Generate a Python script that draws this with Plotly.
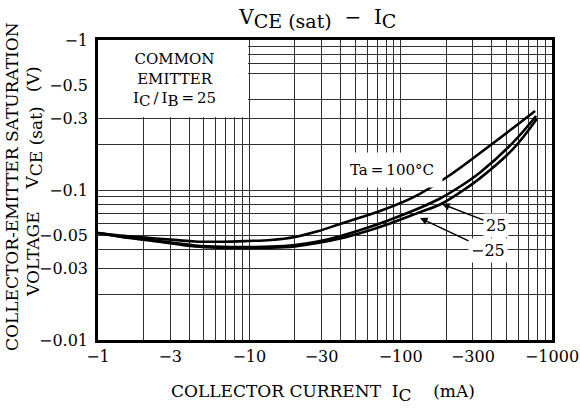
import plotly.graph_objects as go

# ---- data (magnitudes; chart shows negative values) ----
ic_100 = [1, 1.4, 2.21, 4.38, 6.6, 9.8, 13.9, 20.0, 28.3, 39.8, 54.0, 73.1, 120.8, 202.6, 334.8, 553.4, 773.2]
vce_100 = [0.0517, 0.0497, 0.0479, 0.0454, 0.0452, 0.0457, 0.0464, 0.0486, 0.0530, 0.0594, 0.0656, 0.0724, 0.0892, 0.1221, 0.1765, 0.259, 0.336]

ic_25 = [1, 1.4, 2.21, 4.38, 6.6, 9.8, 13.9, 20.0, 28.3, 39.8, 58.1, 85.1, 134.4, 182.2, 247.0, 334.8, 553.4, 785.0]
vce_25 = [0.0517, 0.0490, 0.0464, 0.0427, 0.0418, 0.0417, 0.0419, 0.0430, 0.0454, 0.0492, 0.0553, 0.0634, 0.0762, 0.0878, 0.1055, 0.1310, 0.2075, 0.3113]

ic_m25 = [1, 1.4, 2.21, 4.38, 6.6, 9.8, 13.9, 20.0, 28.3, 39.8, 58.1, 85.1, 134.4, 182.2, 247.0, 334.8, 553.4, 797.0]
vce_m25 = [0.0517, 0.0488, 0.0461, 0.0420, 0.0412, 0.0410, 0.0412, 0.0421, 0.0443, 0.0475, 0.0527, 0.0598, 0.0712, 0.0800, 0.0963, 0.1200, 0.1880, 0.300]

x_tickvals = [1, 3, 10, 30, 100, 300, 1000]
x_ticktext = ["\u22121", "\u22123", "\u221210", "\u221230", "\u2212100", "\u2212300", "\u22121000"]
y_tickvals = [0.01, 0.03, 0.05, 0.1, 0.3, 0.5, 1]
y_ticktext = ["\u22120.01", "\u22120.03", "\u22120.05", "\u22120.1", "\u22120.3", "\u22120.5", "\u22121"]

x_grid = [k * 10 ** d for d in range(0, 3) for k in range(1, 10)] + [1000]
y_grid = [k * 10.0 ** d for d in (-2, -1) for k in range(1, 10) if not (d == -1 and k == 5)] + [1]

FONT = "DejaVu Serif"

fig = go.Figure()
for xs, ys in [(ic_100, vce_100), (ic_25, vce_25), (ic_m25, vce_m25)]:
    fig.add_trace(go.Scatter(x=xs, y=ys, mode="lines",
                             line=dict(color="black", width=2.6, shape="spline", smoothing=1.0),
                             showlegend=False, hoverinfo="skip"))

axis_common = dict(type="log", showline=True, linecolor="black", linewidth=2.5, mirror=True,
                   showgrid=False, zeroline=False, ticks="", automargin=False,
                   tickfont=dict(family=FONT, size=16, color="black"))

fig.update_xaxes(range=[0, 3], tickmode="array", tickvals=x_tickvals, ticktext=x_ticktext,
                 minor=dict(tickmode="array", tickvals=x_grid, showgrid=True,
                            gridcolor="#303030", gridwidth=1, ticks=""),
                 **axis_common)
fig.update_yaxes(range=[-2, 0], tickmode="array", tickvals=y_tickvals, ticktext=y_ticktext,
                 minor=dict(tickmode="array", tickvals=y_grid, showgrid=True,
                            gridcolor="#303030", gridwidth=1, ticks=""),
                 ticklabelstandoff=4,
                 **axis_common)

# white box behind the condition text
fig.add_shape(type="rect", xref="x", yref="y", x0=1, x1=9.8, y0=0.305, y1=1,
              fillcolor="white", line=dict(width=0), layer="between")

S = "<span style='font-size:17px'>"
S19 = "<span style='font-size:19px'>"
S15 = "<span style='font-size:15px'>"
C = dict(xanchor="center", yanchor="middle", showarrow=False)
annotations = [
    dict(text="COMMON<br>EMITTER<br>I<sub>" + S15 + "C</span></sub>\u2009/\u2009I<sub>" + S15
         + "B</span></sub>\u2009=\u200925",
         xref="paper", yref="paper", x=0.1696, y=0.867,
         font=dict(family=FONT, size=15, color="black"), align="center", **C),
    dict(text="Ta\u2009=\u2009100\u00b0C", xref="paper", yref="paper", x=0.6476, y=0.567,
         font=dict(family=FONT, size=15, color="black"),
         bgcolor="white", borderpad=8, **C),
    dict(text="25", xref="x", yref="y", x=2.2736, y=-1.0933, ax=54, ay=21,
         showarrow=True, arrowhead=2, arrowsize=1, arrowwidth=1.5, arrowcolor="black",
         font=dict(family=FONT, size=16, color="black"), bgcolor="white", borderpad=2),
    dict(text="\u221225", xref="x", yref="y", x=2.128, y=-1.1867, ax=68, ay=32,
         showarrow=True, arrowhead=2, arrowsize=1, arrowwidth=1.5, arrowcolor="black",
         font=dict(family=FONT, size=16, color="black"), bgcolor="white", borderpad=2),
    # y axis title pieces
    dict(text="COLLECTOR-EMITTER SATURATION", xref="paper", yref="paper",
         x=-0.1894, y=0.51, textangle=-90,
         font=dict(family=FONT, size=17, color="black"), **C),
    dict(text="VOLTAGE", xref="paper", yref="paper", x=-0.1432, y=0.287, textangle=-90,
         font=dict(family=FONT, size=17, color="black"), **C),
    dict(text="V<sub>" + S + "CE (sat)</span></sub>", xref="paper", yref="paper",
         x=-0.1400, y=0.64, textangle=-90,
         font=dict(family=FONT, size=17, color="black"), **C),
    dict(text="(V)", xref="paper", yref="paper", x=-0.1432, y=0.87, textangle=-90,
         font=dict(family=FONT, size=17, color="black"), **C),
    # x axis title
    dict(text="COLLECTOR CURRENT\u00a0\u00a0I<sub>" + S + "C</span></sub>\u00a0\u00a0\u00a0\u00a0(mA)",
         xref="paper", yref="paper", x=0.4956, y=-0.177,
         font=dict(family=FONT, size=17, color="black"), **C),
]
fig.update_layout(annotations=annotations)

fig.update_layout(
    width=580, height=408,
    margin=dict(l=98, r=28, t=40, b=68),
    paper_bgcolor="white", plot_bgcolor="white",
    title=dict(text="V<sub>" + S19 + "CE (sat)</span></sub>\u00a0\u00a0\u2212\u00a0\u00a0I<sub>" + S19 + "C</span></sub>",
               x=0.548, xanchor="center", y=0.958, yanchor="middle",
               font=dict(family=FONT, size=20, color="black")),
)

fig.write_html("out.html", config={"displayModeBar": False},
               post_script="document.body.style.margin='0';document.body.style.padding='0';")
